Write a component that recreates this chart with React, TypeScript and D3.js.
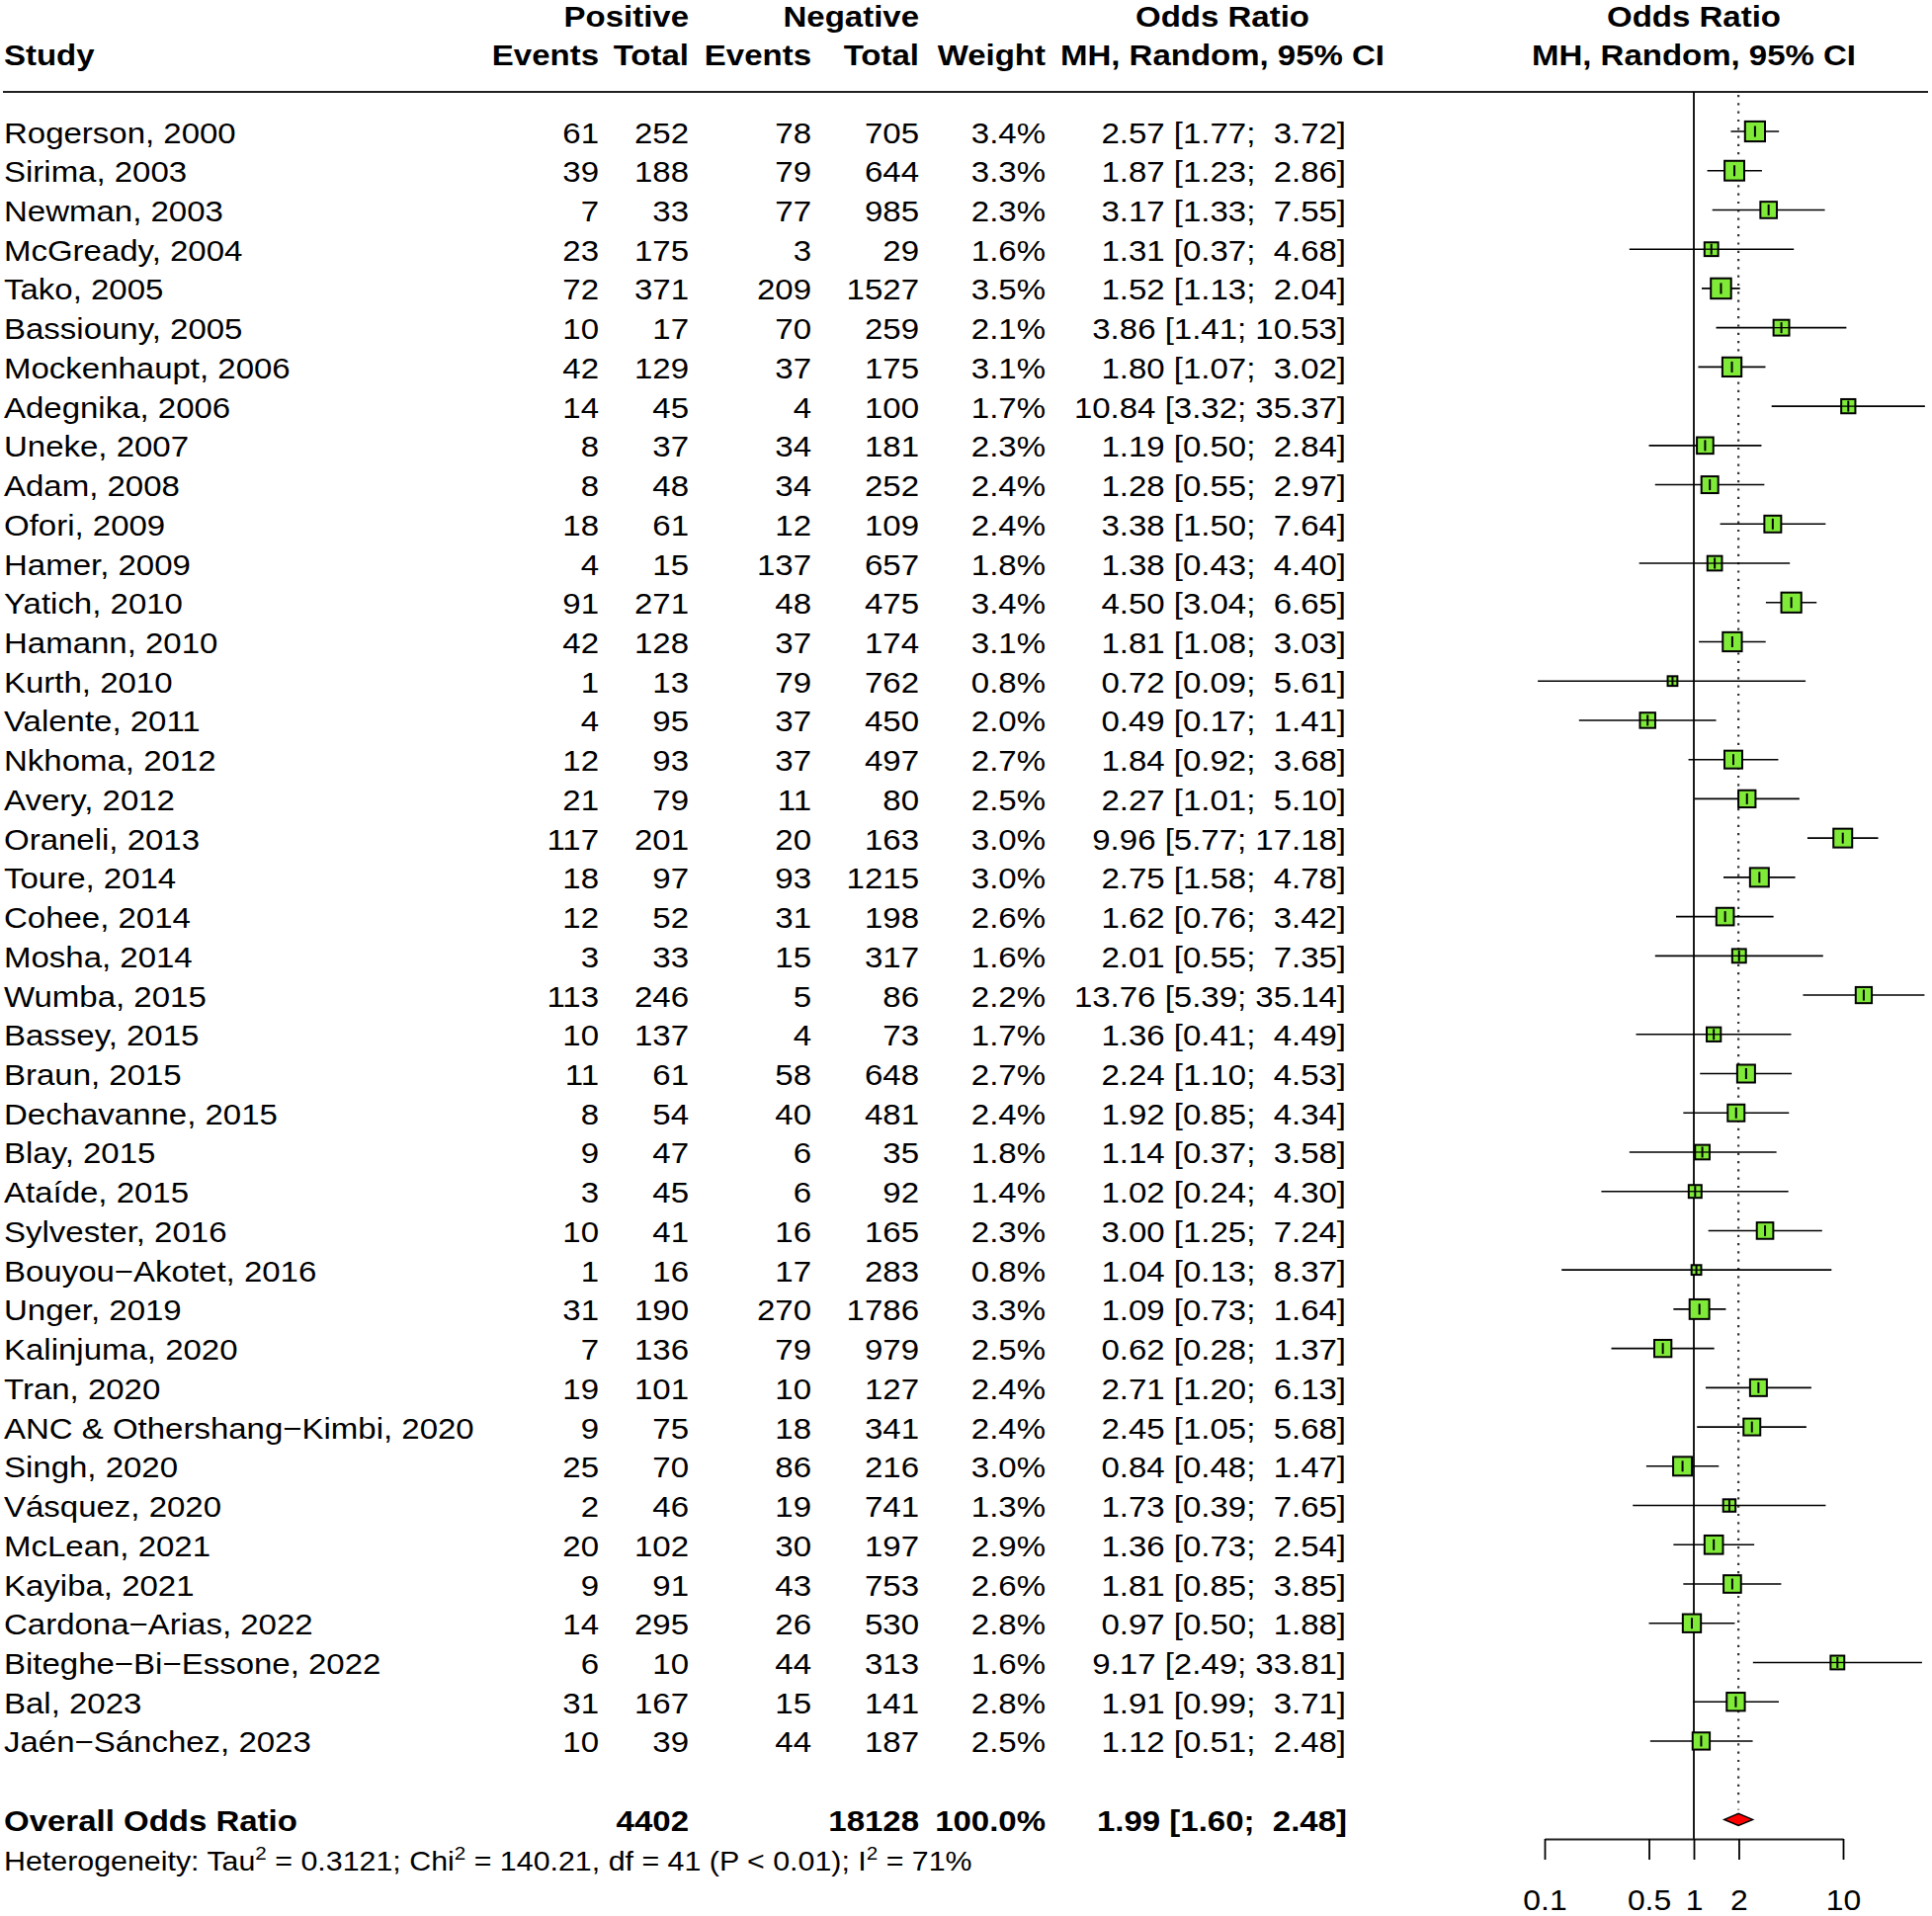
import React, { useRef, useEffect } from "react";
import * as d3 from "d3";

const studies = [
  "Rogerson, 2000", "Sirima, 2003", "Newman, 2003", "McGready, 2004", "Tako, 2005",
  "Bassiouny, 2005", "Mockenhaupt, 2006", "Adegnika, 2006", "Uneke, 2007", "Adam, 2008",
  "Ofori, 2009", "Hamer, 2009", "Yatich, 2010", "Hamann, 2010", "Kurth, 2010",
  "Valente, 2011", "Nkhoma, 2012", "Avery, 2012", "Oraneli, 2013", "Toure, 2014",
  "Cohee, 2014", "Mosha, 2014", "Wumba, 2015", "Bassey, 2015", "Braun, 2015",
  "Dechavanne, 2015", "Blay, 2015", "Ataíde, 2015", "Sylvester, 2016", "Bouyou\u2212Akotet, 2016",
  "Unger, 2019", "Kalinjuma, 2020", "Tran, 2020", "ANC & Othershang\u2212Kimbi, 2020", "Singh, 2020",
  "Vásquez, 2020", "McLean, 2021", "Kayiba, 2021", "Cardona\u2212Arias, 2022", "Biteghe\u2212Bi\u2212Essone, 2022",
  "Bal, 2023", "Jaén\u2212Sánchez, 2023",
];
const posEvents = [61, 39, 7, 23, 72, 10, 42, 14, 8, 8, 18, 4, 91, 42, 1, 4, 12, 21, 117, 18, 12, 3, 113, 10, 11, 8, 9, 3, 10, 1, 31, 7, 19, 9, 25, 2, 20, 9, 14, 6, 31, 10];
const posTotal = [252, 188, 33, 175, 371, 17, 129, 45, 37, 48, 61, 15, 271, 128, 13, 95, 93, 79, 201, 97, 52, 33, 246, 137, 61, 54, 47, 45, 41, 16, 190, 136, 101, 75, 70, 46, 102, 91, 295, 10, 167, 39];
const negEvents = [78, 79, 77, 3, 209, 70, 37, 4, 34, 34, 12, 137, 48, 37, 79, 37, 37, 11, 20, 93, 31, 15, 5, 4, 58, 40, 6, 6, 16, 17, 270, 79, 10, 18, 86, 19, 30, 43, 26, 44, 15, 44];
const negTotal = [705, 644, 985, 29, 1527, 259, 175, 100, 181, 252, 109, 657, 475, 174, 762, 450, 497, 80, 163, 1215, 198, 317, 86, 73, 648, 481, 35, 92, 165, 283, 1786, 979, 127, 341, 216, 741, 197, 753, 530, 313, 141, 187];
const weights = [3.4, 3.3, 2.3, 1.6, 3.5, 2.1, 3.1, 1.7, 2.3, 2.4, 2.4, 1.8, 3.4, 3.1, 0.8, 2.0, 2.7, 2.5, 3.0, 3.0, 2.6, 1.6, 2.2, 1.7, 2.7, 2.4, 1.8, 1.4, 2.3, 0.8, 3.3, 2.5, 2.4, 2.4, 3.0, 1.3, 2.9, 2.6, 2.8, 1.6, 2.8, 2.5];
const orEst = [2.57, 1.87, 3.17, 1.31, 1.52, 3.86, 1.80, 10.84, 1.19, 1.28, 3.38, 1.38, 4.50, 1.81, 0.72, 0.49, 1.84, 2.27, 9.96, 2.75, 1.62, 2.01, 13.76, 1.36, 2.24, 1.92, 1.14, 1.02, 3.00, 1.04, 1.09, 0.62, 2.71, 2.45, 0.84, 1.73, 1.36, 1.81, 0.97, 9.17, 1.91, 1.12];
const orLower = [1.77, 1.23, 1.33, 0.37, 1.13, 1.41, 1.07, 3.32, 0.50, 0.55, 1.50, 0.43, 3.04, 1.08, 0.09, 0.17, 0.92, 1.01, 5.77, 1.58, 0.76, 0.55, 5.39, 0.41, 1.10, 0.85, 0.37, 0.24, 1.25, 0.13, 0.73, 0.28, 1.20, 1.05, 0.48, 0.39, 0.73, 0.85, 0.50, 2.49, 0.99, 0.51];
const orUpper = [3.72, 2.86, 7.55, 4.68, 2.04, 10.53, 3.02, 35.37, 2.84, 2.97, 7.64, 4.40, 6.65, 3.03, 5.61, 1.41, 3.68, 5.10, 17.18, 4.78, 3.42, 7.35, 35.14, 4.49, 4.53, 4.34, 3.58, 4.30, 7.24, 8.37, 1.64, 1.37, 6.13, 5.68, 1.47, 7.65, 2.54, 3.85, 1.88, 33.81, 3.71, 2.48];

const overallPosTotal = 4402;
const overallNegTotal = 18128;
const overallWeight = 100;
const overallEst = 1.99;
const overallLower = 1.6;
const overallUpper = 2.48;

const axisTicks = [0.1, 0.5, 1, 2, 10];

const WIDTH = 1955;
const HEIGHT = 1939;
const FONT = "'Liberation Sans', Arial, Helvetica, sans-serif";
const SX = 1.1; // the original text runs a bit wider than Arial

const fmt = (v: number) => v.toFixed(2);
const ciText = (e: number, lo: number, hi: number) => `${fmt(e)} [${fmt(lo)}; ${fmt(hi).padStart(5, " ")}]`;

const ForestPlot: React.FC = () => {
  const svgRef = useRef<SVGSVGElement | null>(null);

  useEffect(() => {
    if (!svgRef.current) return;
    const svg = d3.select(svgRef.current);
    svg.selectAll("*").remove();

    const rowY = (i: number) => 133 + i * 39.73;
    const base = (i: number) => rowY(i) + 11.5;

    const label = (x: number, y: number, str: string, anchor = "start", bold = false, size = 30) =>
      svg.append("text")
        .attr("transform", `translate(${x},${y}) scale(${SX},1)`)
        .attr("text-anchor", anchor)
        .attr("font-family", FONT)
        .attr("font-size", size)
        .attr("font-weight", bold ? "bold" : "normal")
        .style("white-space", "pre")
        .text(str);

    // column headers
    label(697, 27, "Positive", "end", true);
    label(930, 27, "Negative", "end", true);
    label(1237, 27, "Odds Ratio", "middle", true);
    label(1714, 27, "Odds Ratio", "middle", true);
    label(4, 66, "Study", "start", true);
    label(606, 66, "Events", "end", true);
    label(697, 66, "Total", "end", true);
    label(821, 66, "Events", "end", true);
    label(930, 66, "Total", "end", true);
    label(1058, 66, "Weight", "end", true);
    label(1237, 66, "MH, Random, 95% CI", "middle", true);
    label(1714, 66, "MH, Random, 95% CI", "middle", true);

    svg.append("line")
      .attr("x1", 3).attr("x2", 1951).attr("y1", 93).attr("y2", 93)
      .attr("stroke", "#222").attr("stroke-width", 2);

    // study rows
    studies.forEach((s, i) => {
      const y = base(i);
      label(4, y, s);
      label(606, y, String(posEvents[i]), "end");
      label(697, y, String(posTotal[i]), "end");
      label(821, y, String(negEvents[i]), "end");
      label(930, y, String(negTotal[i]), "end");
      label(1058, y, `${weights[i].toFixed(1)}%`, "end");
      label(1362, y, ciText(orEst[i], orLower[i], orUpper[i]), "end");
    });

    const oi = studies.length + 1;
    label(4, base(oi), "Overall Odds Ratio", "start", true);
    label(697, base(oi), String(overallPosTotal), "end", true);
    label(930, base(oi), String(overallNegTotal), "end", true);
    label(1058, base(oi), `${overallWeight.toFixed(1)}%`, "end", true);
    label(1363, base(oi), ciText(overallEst, overallLower, overallUpper), "end", true);

    // heterogeneity line
    const het = svg.append("text")
      .attr("transform", `translate(4,${base(oi + 1)}) scale(1.085,1)`)
      .attr("font-family", FONT)
      .attr("font-size", 28)
      .style("white-space", "pre");
    const parts: [string, boolean][] = [
      ["Heterogeneity: Tau", false], ["2", true], [" = 0.3121; Chi", false], ["2", true],
      [" = 140.21, df = 41 (P < 0.01); I", false], ["2", true], [" = 71%", false],
    ];
    let prevSup = false;
    parts.forEach(([t, sup]) => {
      het.append("tspan")
        .attr("dy", sup ? -11 : prevSup ? 11 : 0)
        .attr("font-size", sup ? 19 : 28)
        .text(t);
      prevSup = sup;
    });

    // forest panel
    const x = d3.scaleLog().domain([0.1, 10]).range([1563, 1865]);
    const side = d3.scaleSqrt().domain([0, d3.max(weights)!]).range([0, 20.5]);
    const axisY = 1861;

    svg.append("line")
      .attr("x1", x(1)).attr("x2", x(1)).attr("y1", 93).attr("y2", axisY)
      .attr("stroke", "#000").attr("stroke-width", 1.8);

    svg.append("line")
      .attr("x1", x(overallEst)).attr("x2", x(overallEst))
      .attr("y1", 96).attr("y2", rowY(oi) - 10)
      .attr("stroke", "#333").attr("stroke-width", 2.2)
      .attr("stroke-dasharray", "2.2 6.1");

    const rows = studies.map((s, i) => ({ i, est: orEst[i], lo: orLower[i], hi: orUpper[i], w: weights[i] }));
    const g = svg.append("g");

    g.selectAll("line.ci")
      .data(rows)
      .enter().append("line")
      .attr("class", "ci")
      .attr("x1", d => x(d.lo)).attr("x2", d => x(d.hi))
      .attr("y1", d => rowY(d.i)).attr("y2", d => rowY(d.i))
      .attr("stroke", "#000").attr("stroke-width", 1.6);

    g.selectAll("rect.sq")
      .data(rows)
      .enter().append("rect")
      .attr("class", "sq")
      .attr("x", d => x(d.est) - side(d.w) / 2)
      .attr("y", d => rowY(d.i) - side(d.w) / 2)
      .attr("width", d => side(d.w))
      .attr("height", d => side(d.w))
      .attr("fill", "#80EA38")
      .attr("stroke", "#000")
      .attr("stroke-width", 2);

    // CI line shows through the smaller squares
    g.selectAll("line.inner")
      .data(rows.filter(d => side(d.w) < 16))
      .enter().append("line")
      .attr("class", "inner")
      .attr("x1", d => x(d.est) - side(d.w) / 2).attr("x2", d => x(d.est) + side(d.w) / 2)
      .attr("y1", d => rowY(d.i)).attr("y2", d => rowY(d.i))
      .attr("stroke", "#000").attr("stroke-width", 1.3);

    g.selectAll("line.mark")
      .data(rows)
      .enter().append("line")
      .attr("class", "mark")
      .attr("x1", d => x(d.est)).attr("x2", d => x(d.est))
      .attr("y1", d => rowY(d.i) - Math.min(11, side(d.w)) / 2)
      .attr("y2", d => rowY(d.i) + Math.min(11, side(d.w)) / 2)
      .attr("stroke", "#000").attr("stroke-width", 2);

    const cy = rowY(oi);
    svg.append("polygon")
      .attr("points", [
        [x(overallLower), cy], [x(overallEst), cy - 6],
        [x(overallUpper), cy], [x(overallEst), cy + 6],
      ].map(p => p.join(",")).join(" "))
      .attr("fill", "#FF0000").attr("stroke", "#000").attr("stroke-width", 1.5);

    const axis = d3.axisBottom(x)
      .tickValues(axisTicks)
      .tickSize(21)
      .tickSizeOuter(0)
      .tickFormat(d => String(d));

    svg.append("g")
      .attr("transform", `translate(0,${axisY})`)
      .call(axis)
      .call(a => a.select(".domain").attr("stroke", "#222").attr("stroke-width", 2))
      .call(a => a.selectAll(".tick line").attr("stroke", "#000").attr("stroke-width", 1.8))
      .call(a => a.selectAll(".tick text")
        .attr("y", 72).attr("dy", 0)
        .attr("transform", `scale(${SX},1)`)
        .attr("font-family", FONT)
        .attr("font-size", 29)
        .attr("fill", "#000"));
  }, []);

  return <svg ref={svgRef} width={WIDTH} height={HEIGHT} style={{ display: "block", background: "#fff" }}></svg>;
};

export default function App() {
  return (
    <>
      <style>{"body{margin:0;background:#fff}"}</style>
      <ForestPlot />
    </>
  );
}
